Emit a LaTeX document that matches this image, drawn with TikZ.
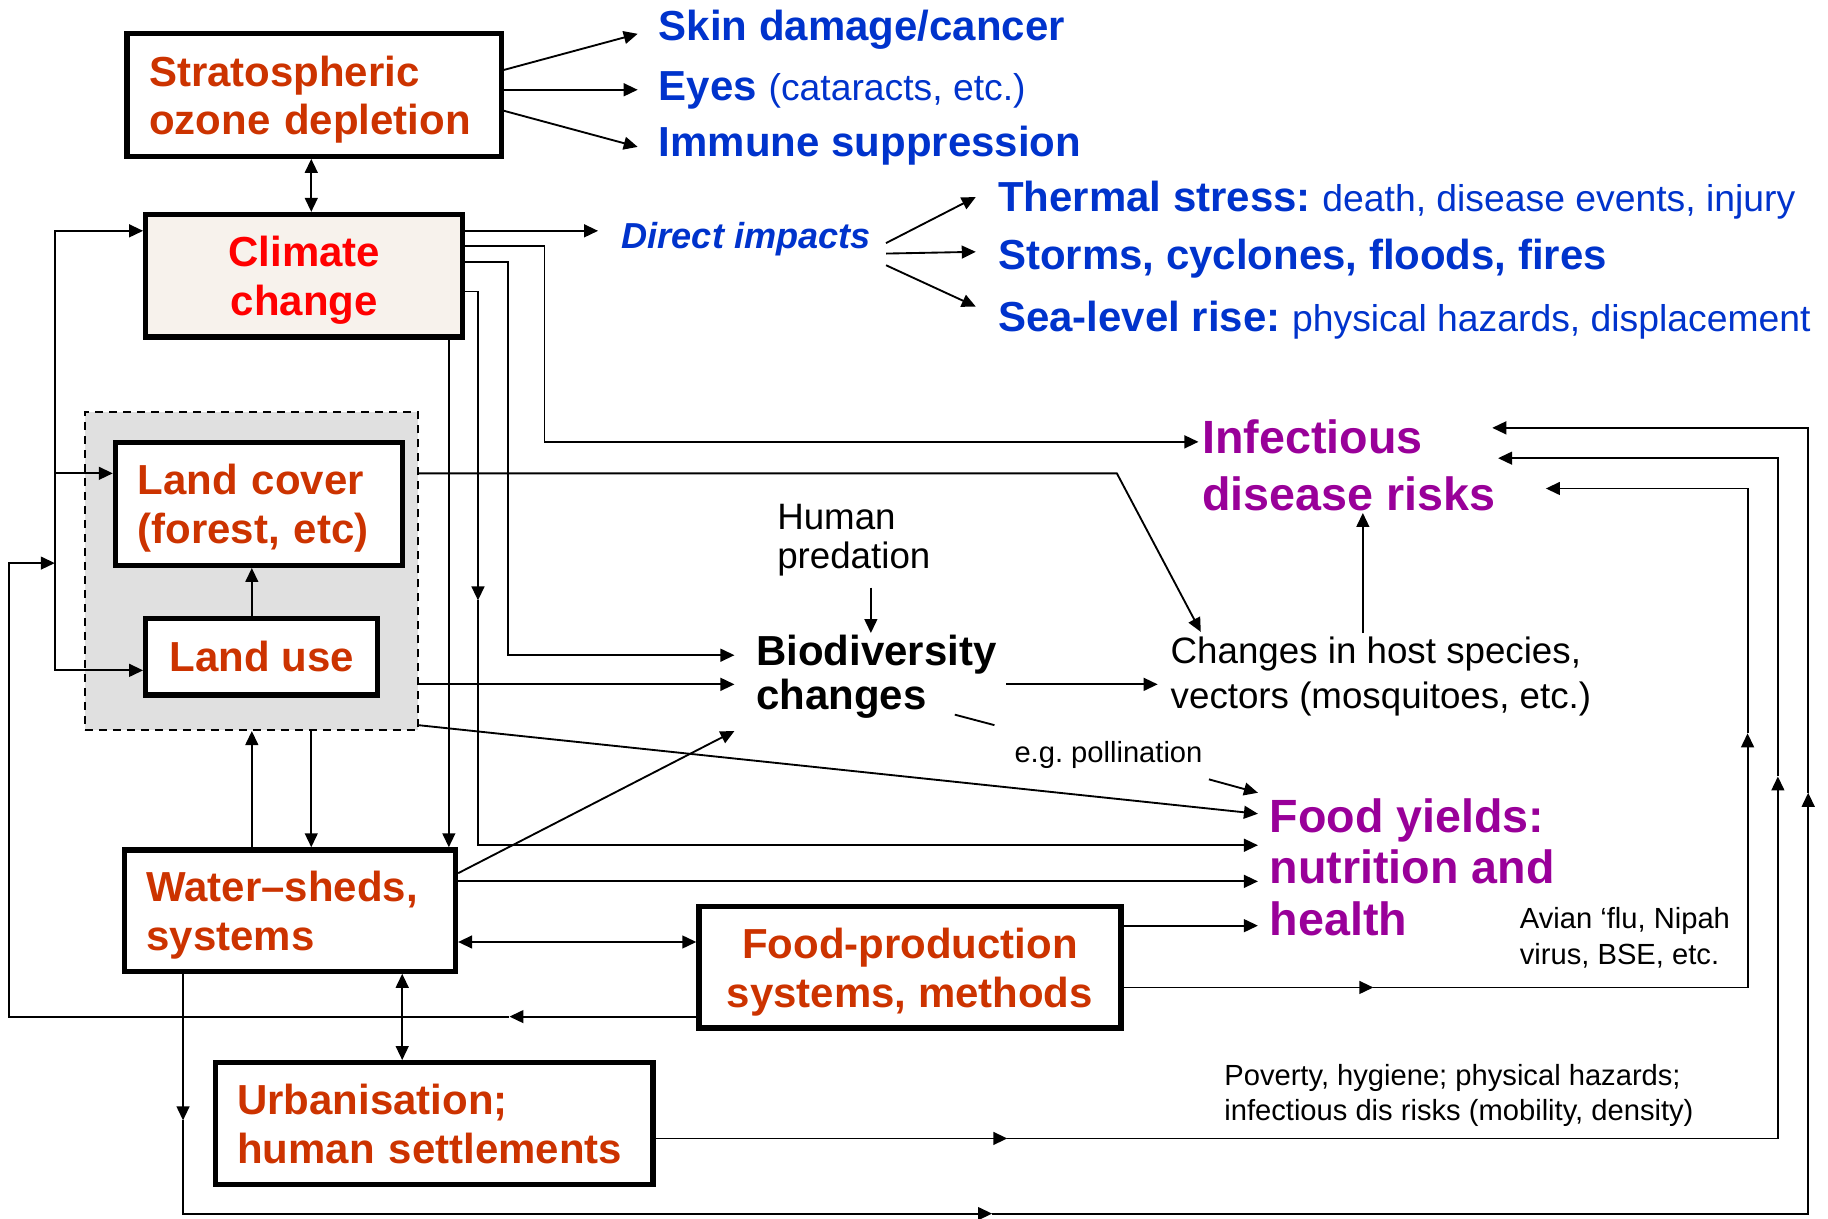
\documentclass[tikz,border=0pt]{standalone}
\usepackage{fontspec}
\setmainfont{Liberation Sans}
\usetikzlibrary{arrows.meta}
\frenchspacing
\definecolor{boxred}{RGB}{204,51,0}
\definecolor{clred}{RGB}{255,0,0}
\definecolor{clfill}{RGB}{247,242,236}
\definecolor{dkblue}{RGB}{0,51,204}
\definecolor{purp}{RGB}{153,0,153}
\definecolor{zonegray}{RGB}{224,224,224}
\newcommand\bxstrut{\rule{0pt}{34pt}}
\tikzset{Tri/.tip={Triangle[length=12pt,width=11pt]}}
\begin{document}
\begin{tikzpicture}[x=1pt,y=-1pt,
  bx/.style={draw=black, line width=4.5pt, fill=white, inner sep=0pt,
    font=\fontsize{36}{42}\selectfont\bfseries, text=boxred},
  conn/.style={line width=1.6pt},
  arr/.style={conn,-Tri},
  darr/.style={conn,Tri-Tri},
  lbl/.style={inner sep=0pt, anchor=base west},
  bigb/.style={font=\fontsize{36}{42}\selectfont\bfseries},
]
\useasboundingbox (0,0) rectangle (1568,1045);

% ---- grouped land zone
\node[draw=black, dashed, dash pattern=on 7pt off 5pt, line width=1.6pt, fill=zonegray,
  minimum width=285.5pt, minimum height=272.5pt, inner sep=0pt] (dz) at (215.6,490) {};

% ---- boxes
\node[bx, align=left, text width=283pt, minimum width=321pt, minimum height=105pt] (oz) at (269.4,81.5) {\bxstrut Stratospheric\\ozone depletion};
\node[bx, fill=clfill, text=clred, align=center, minimum width=272pt, minimum height=105pt] (clim) at (261,236.5) {\bxstrut Climate\\change};
\node[bx, align=left, text width=208pt, minimum width=246pt, minimum height=105.5pt] (lc) at (222,432.2) {\bxstrut Land cover\\(forest, etc)};
\node[bx, align=center, minimum width=199pt, minimum height=65.5pt] (lu) at (224.5,563.4) {Land use};
\node[bx, align=left, text width=246pt, minimum width=284pt, minimum height=104pt] (ws) at (248.7,781) {\bxstrut Water–sheds,\\systems};
\node[bx, align=center, minimum width=362pt, minimum height=104pt] (fp) at (780.5,829.7) {\bxstrut Food-production\\systems, methods};
\node[bx, align=left, text width=337.5pt, minimum width=375.5pt, minimum height=104.5pt] (ur) at (372.3,963.8) {Urbanisation;\\human settlements};

% ---- named free points
\coordinate (skinA) at (547,29);
\coordinate (eyesA) at (547,77);
\coordinate (immA) at (547,126);
\coordinate (dirA) at (513,198);
\coordinate (cInf) at (467,379);
\coordinate (infA0) at (1028,379);
\coordinate (cBio) at (436,562);
\coordinate (bioA1) at (630,562);
\coordinate (cFm) at (410,515);
\coordinate (cFood) at (410,725);
\coordinate (foodA2) at (1079,725);
\coordinate (cBusTop) at (47,198);
\coordinate (cBusLc) at (47,406);
\coordinate (cBusIn) at (47,483);
\coordinate (cBusBot) at (47,575);
\coordinate (cLoopM) at (437,872);
\coordinate (cLoopBL) at (8,872);
\coordinate (cLoopTL) at (8,483);
\coordinate (dirO1) at (760,208.5);
\coordinate (dirO2) at (760,217.5);
\coordinate (dirO3) at (760,227.5);
\coordinate (thA) at (837,169);
\coordinate (stA) at (837,216);
\coordinate (seaA) at (837,263);
\coordinate (cLcK) at (958,406);
\coordinate (chA) at (1030,542);
\coordinate (bioA2) at (630,587);
\coordinate (foodA1) at (1079,698);
\coordinate (bioB) at (863,587);
\coordinate (chB) at (993,587);
\coordinate (predA) at (747,504);
\coordinate (predB) at (747,543);
\coordinate (polA) at (819,613);
\coordinate (polB) at (853,622);
\coordinate (polC) at (1037,668.5);
\coordinate (foodA0) at (1079,680);
\coordinate (chUp) at (1169,543);
\coordinate (infUp) at (1169,440);
\coordinate (bioA3) at (630,627);
\coordinate (foodA3) at (1079,756);
\coordinate (foodA4) at (1079,794);
\coordinate (cW1) at (157,961);
\coordinate (cW2) at (157,1041);
\coordinate (cW3) at (851,1041);
\coordinate (cW4) at (1551,1041);
\coordinate (cW5) at (1551,680);
\coordinate (cW6) at (1551,367);
\coordinate (infA3) at (1280,367);
\coordinate (cF1) at (1178,847);
\coordinate (cF2) at (1499,847);
\coordinate (cF3) at (1499,629);
\coordinate (cF4) at (1499,419);
\coordinate (infA1) at (1326,419);
\coordinate (cU1) at (864,976.5);
\coordinate (cU2) at (1525,976.5);
\coordinate (cU3) at (1525,666);
\coordinate (cU4) at (1525,393);
\coordinate (infA2) at (1285,393);

% ---- ozone
\draw[arr] (oz.east |- 0,60) -- (skinA);
\draw[arr] (oz.east |- 0,77) -- (eyesA);
\draw[arr] (oz.east |- 0,95) -- (immA);
\draw[darr] (oz.south -| 267,0) -- (clim.north -| 267,0);

% ---- climate change outputs
\draw[arr] (clim.east |- 0,198) -- (dirA);
\draw[arr] (clim.east |- 0,211) -| (cInf) -- (infA0);
\draw[arr] (clim.east |- 0,225) -| (cBio) -- (bioA1);
\draw[arr] (clim.east |- 0,250) -| (cFm);
\draw[arr] (cFm) -- (cFood) -- (foodA2);
\draw[arr] (clim.south -| 385,0) -- (ws.north -| 385,0);

% ---- left bus
\draw[arr] (cBusBot) -- (cBusTop) -- (clim.west |- cBusTop);
\draw[arr] (cBusTop) -- (cBusBot) -- (lu.west |- cBusBot);
\draw[arr] (cBusLc) -- (lc.west |- cBusLc);
\draw[arr] (fp.west |- cLoopM) -- (cLoopM);
\draw[arr] (cLoopM) -- (cLoopBL) -- (cLoopTL) -- (cBusIn);

% ---- direct impacts
\draw[arr] (dirO1) -- (thA);
\draw[arr] (dirO2) -- (stA);
\draw[arr] (dirO3) -- (seaA);

% ---- land
\draw[arr] (dz.east |- cLcK) -- (cLcK) -- (chA);
\draw[arr] (dz.east |- bioA2) -- (bioA2);
\draw[arr] ([yshift=5pt]dz.south east) -- (foodA1);
\draw[arr] (lu.north -| 216,0) -- (lc.south -| 216,0);
\draw[arr] (ws.north -| 216,0) -- (dz.south -| 216,0);
\draw[arr] (dz.south -| 267,0) -- (ws.north -| 267,0);

% ---- biodiversity
\draw[arr] (bioB) -- (chB);
\draw[arr] (predA) -- (predB);
\draw[conn] (polA) -- (polB);
\draw[arr] (polC) -- (foodA0);
\draw[arr] (chUp) -- (infUp);

% ---- water-sheds
\draw[arr] (ws.east |- 0,749) -- (bioA3);
\draw[arr] (ws.east |- foodA3) -- (foodA3);
\draw[darr] (ws.east |- 0,808) -- (fp.west |- 0,808);
\draw[darr] (ws.south -| 345,0) -- (ur.north -| 345,0);
\draw[arr] (ws.south -| cW1) -- (cW1);
\draw[arr] (cW1) -- (cW2) -- (cW3);
\draw[arr] (cW3) -- (cW4) -- (cW5);
\draw[arr] (cW5) -- (cW6) -- (infA3);

% ---- food production
\draw[arr] (fp.east |- foodA4) -- (foodA4);
\draw[arr] (fp.east |- cF1) -- (cF1);
\draw[arr] (cF1) -- (cF2) -- (cF3);
\draw[arr] (cF3) -- (cF4) -- (infA1);

% ---- urbanisation
\draw[arr] (ur.east |- cU1) -- (cU1);
\draw[arr] (cU1) -- (cU2) -- (cU3);
\draw[arr] (cU3) -- (cU4) -- (infA2);

% ---- texts
\node[lbl, bigb, text=dkblue] (skin) at (565,35) {Skin damage/cancer};
\node[lbl, bigb, text=dkblue] (eyes) at (565,86) {Eyes {\fontsize{32}{36}\selectfont\mdseries (cataracts, etc.)}};
\node[lbl, bigb, text=dkblue] (imm) at (565,134) {Immune suppression};
\node[lbl, text=dkblue, font=\fontsize{31}{36}\selectfont\bfseries\itshape] (dir) at (533,213) {Direct impacts};
\node[lbl, bigb, text=dkblue] (therm) at (856,181) {Thermal stress: {\fontsize{32}{36}\selectfont\mdseries death, disease events, injury}};
\node[lbl, bigb, text=dkblue] (storm) at (856,231) {Storms, cyclones, floods, fires};
\node[lbl, bigb, text=dkblue] (sea) at (856,284.5) {Sea-level rise: {\fontsize{32}{36}\selectfont\mdseries physical hazards, displacement}};

\node[lbl, text=purp, font=\fontsize{40}{49}\selectfont\bfseries] (inf) at (1031,388.6) {\vtop{\hbox{Infectious}\hbox{disease risks}}};
\node[lbl, text=purp, font=\fontsize{40}{44.3}\selectfont\bfseries] (food) at (1089,713.7) {\vtop{\hbox{Food yields:}\hbox{nutrition and}\hbox{health}}};

\node[lbl, font=\fontsize{31.5}{34}\selectfont] (pred) at (666.5,454) {\vtop{\hbox{Human}\hbox{predation}}};
\node[lbl, font=\fontsize{36}{38.5}\selectfont\bfseries] (bio) at (648.5,570.5) {\vtop{\hbox{Biodiversity}\hbox{changes}}};
\node[lbl, font=\fontsize{31.5}{38.5}\selectfont] (ch) at (1004,569) {\vtop{\hbox{Changes in host species,}\hbox{vectors (mosquitoes, etc.)}}};
\node[lbl, font=\fontsize{25}{30}\selectfont] (eg) at (870,654) {e.g. pollination};
\node[lbl, font=\fontsize{25}{31}\selectfont] (avian) at (1303.5,796) {\vtop{\hbox{Avian ‘flu, Nipah}\hbox{virus, BSE, etc.}}};
\node[lbl, font=\fontsize{25}{30}\selectfont] (pov) at (1050,930.7) {\vtop{\hbox{Poverty, hygiene; physical hazards;}\hbox{infectious dis risks (mobility, density)}}};
\end{tikzpicture}
\end{document}
